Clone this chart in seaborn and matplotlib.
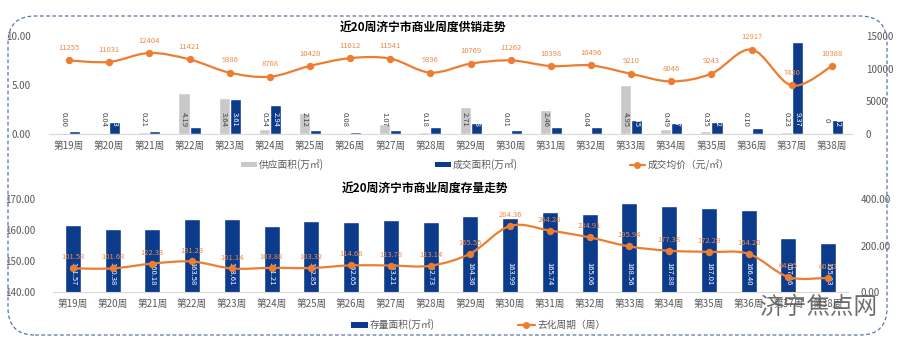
import matplotlib
matplotlib.use("Agg")
import matplotlib.pyplot as plt
import numpy as np
import pandas as pd
import seaborn as sns
from matplotlib.path import Path
from matplotlib.patches import PathPatch, FancyBboxPatch, Patch
from matplotlib.lines import Line2D

# ---------------- data ----------------
weeks = ["第19周", "第20周", "第21周", "第22周", "第23周", "第24周", "第25周",
         "第26周", "第27周", "第28周", "第29周", "第30周", "第31周", "第32周",
         "第33周", "第34周", "第35周", "第36周", "第37周", "第38周"]

supply = [0.00, 0.04, 0.21, 4.19, 3.64, 0.54, 2.12, 0.08, 1.07, 0.18,
          2.71, 0.01, 2.46, 0.04, 4.95, 0.49, 0.35, 0.10, 0.23, 0.00]
supply_labels = ["0.00", "0.04", "0.21", "4.19", "3.64", "0.54", "2.12", "0.08", "1.07", "0.18",
                 "2.71", "0.01", "2.46", "0.04", "4.95", "0.49", "0.35", "0.10", "0.23", "0"]
deal = [0.31, 1.23, 0.31, 0.71, 3.61, 2.94, 0.44, 0.20, 0.44, 0.68,
        1.08, 0.44, 0.73, 0.73, 1.45, 1.17, 1.22, 0.65, 9.37, 1.42]
price = [11255, 11031, 12404, 11421, 9386, 8768, 10420, 11612, 11541, 9396,
         10769, 11262, 10398, 10496, 9210, 8046, 9243, 12917, 7430, 10388]

stock = [161.57, 160.38, 160.18, 163.58, 163.61, 161.21, 162.85, 162.65, 163.21, 162.73,
         164.36, 163.99, 165.74, 165.06, 168.56, 167.88, 167.01, 166.40, 157.26, 155.83]
cycle = [101.53, 101.63, 122.33, 131.23, 101.14, 103.88, 103.32, 114.68, 113.78, 113.14,
         165.55, 284.36, 264.28, 234.91, 195.94, 177.38, 172.29, 164.20, 64.35, 60.91]

top_title = "近20周济宁市商业周度供销走势"
bottom_title = "近20周济宁市商业周度存量走势"
series_names = ["供应面积(万㎡)", "成交面积(万㎡)", "成交均价（元/㎡）"]
bottom_names = ["存量面积(万㎡)", "去化周期（周）"]

# ---------------- style ----------------
GRAY = "#c9c9c9"
NAVY = "#0d3b8c"
ORANGE = "#ed7d31"
LABEL_ORANGE = "#ef8a44"
TICK = "#595959"

sns.set_theme(style="white")
plt.rcParams["font.family"] = ["Noto Sans CJK SC", "DejaVu Sans"]
plt.rcParams["axes.unicode_minus"] = False

W, H = 902, 347
fig = plt.figure(figsize=(W / 100, H / 100), dpi=100)


def ax_rect(x0, x1, ytop, ybot):
    return [x0 / W, 1 - ybot / H, (x1 - x0) / W, (ybot - ytop) / H]


def smooth_path(xs, ys, t=1 / 6):
    verts = [(xs[0], ys[0])]
    codes = [Path.MOVETO]
    n = len(xs)
    for i in range(n - 1):
        p0 = (xs[max(i - 1, 0)], ys[max(i - 1, 0)])
        p1 = (xs[i], ys[i])
        p2 = (xs[i + 1], ys[i + 1])
        p3 = (xs[min(i + 2, n - 1)], ys[min(i + 2, n - 1)])
        c1 = (p1[0] + (p2[0] - p0[0]) * t, p1[1] + (p2[1] - p0[1]) * t)
        c2 = (p2[0] - (p3[0] - p1[0]) * t, p2[1] - (p3[1] - p1[1]) * t)
        verts += [c1, c2, p2]
        codes += [Path.CURVE4] * 3
    return Path(verts, codes)


def style_axes(ax):
    for s in ["top", "left", "right"]:
        ax.spines[s].set_visible(False)
    ax.spines["bottom"].set_color("#d9d9d9")
    ax.spines["bottom"].set_linewidth(0.8)
    ax.grid(False)


# ---------------- top chart ----------------
ax1 = fig.add_axes(ax_rect(49, 852, 36, 134))
df_top = pd.DataFrame({
    "week": weeks * 2,
    "value": supply + deal,
    "series": [series_names[0]] * len(weeks) + [series_names[1]] * len(weeks),
})
sns.barplot(data=df_top, x="week", y="value", hue="series", palette=[GRAY, NAVY],
            width=0.55, saturation=1, ax=ax1, legend=False)
ax1.set_xlim(-0.5, len(weeks) - 0.5)
ax1.set_ylim(0, 10)
ax1.set_yticks([0, 5, 10])
ax1.set_yticklabels(["0.00", "5.00", "10.00"])
ax1.set_xlabel("")
ax1.set_ylabel("")
style_axes(ax1)
ax1.tick_params(axis="both", length=0, labelsize=7, colors=TICK)
ax1.tick_params(axis="y", pad=13)
ax1.tick_params(axis="x", pad=5)

for i in range(len(weeks)):
    ax1.text(i - 0.1375, 1.45, supply_labels[i], rotation=270, ha="center", va="center",
             fontsize=5.5, color="#404040")
    ax1.text(i + 0.1375, 1.45, f"{deal[i]:.2f}", rotation=270, ha="center", va="center",
             fontsize=5.5, color="white", clip_on=True)

ax1b = ax1.twinx()
ax1b.set_ylim(0, 15000)
ax1b.set_yticks([0, 5000, 10000, 15000])
ax1b.set_yticklabels(["0", "5000", "10000", "15000"])
for s in ["top", "left", "right", "bottom"]:
    ax1b.spines[s].set_visible(False)
ax1b.grid(False)
ax1b.tick_params(axis="y", length=0, labelsize=7, colors=TICK, pad=10)
xs = list(range(len(weeks)))
ax1b.add_patch(PathPatch(smooth_path(xs, price), facecolor="none", edgecolor=ORANGE, lw=1.6))
sns.scatterplot(x=xs, y=price, ax=ax1b, color=ORANGE, s=28, edgecolor=ORANGE, linewidth=0, zorder=5)
for i, v in enumerate(price):
    ax1b.annotate(str(v), (i, v), xytext=(0, 6), textcoords="offset points", ha="center",
                  va="bottom", fontsize=5.5, color=LABEL_ORANGE)

fig.text(423 / W, 1 - 27 / H, top_title, ha="center", va="center", fontsize=8.5,
         fontweight="bold", color="black")

top_handles = [
    Patch(facecolor=GRAY, edgecolor="none"),
    Patch(facecolor=NAVY, edgecolor="none"),
    Line2D([0], [0], color=ORANGE, lw=1.6, marker="o", markersize=4),
]
leg1 = fig.legend(top_handles, series_names, loc="center", bbox_to_anchor=(485 / W, 1 - 165 / H),
                  ncol=3, frameon=False, fontsize=7, handlelength=1.6, handleheight=0.5,
                  handletextpad=0.2, columnspacing=11.5, labelcolor=TICK)

# ---------------- bottom chart ----------------
ax2 = fig.add_axes(ax_rect(53, 848, 199, 292))
df_bot = pd.DataFrame({"week": weeks, "value": stock})
sns.barplot(data=df_bot, x="week", y="value", color=NAVY, width=0.4, saturation=1, ax=ax2)
ax2.set_xlim(-0.5, len(weeks) - 0.5)
ax2.set_ylim(140, 170)
ax2.set_yticks([140, 150, 160, 170])
ax2.set_yticklabels(["140.00", "150.00", "160.00", "170.00"])
ax2.set_xlabel("")
ax2.set_ylabel("")
style_axes(ax2)
ax2.tick_params(axis="both", length=0, labelsize=7, colors=TICK)
ax2.tick_params(axis="y", pad=13)
ax2.tick_params(axis="x", pad=5)
for i, v in enumerate(stock):
    ax2.text(i, 145.8, f"{v:.2f}", rotation=270, ha="center", va="center",
             fontsize=5.5, color="white")

ax2b = ax2.twinx()
ax2b.set_ylim(0, 400)
ax2b.set_yticks([0, 200, 400])
ax2b.set_yticklabels(["0.00", "200.00", "400.00"])
for s in ["top", "left", "right", "bottom"]:
    ax2b.spines[s].set_visible(False)
ax2b.grid(False)
ax2b.tick_params(axis="y", length=0, labelsize=7, colors=TICK, pad=9)
ax2b.add_patch(PathPatch(smooth_path(xs, cycle), facecolor="none", edgecolor=ORANGE, lw=1.6))
sns.scatterplot(x=xs, y=cycle, ax=ax2b, color=ORANGE, s=28, edgecolor=ORANGE, linewidth=0, zorder=5)
for i, v in enumerate(cycle):
    ax2b.annotate(f"{v:.2f}", (i, v), xytext=(0, 5), textcoords="offset points", ha="center",
                  va="bottom", fontsize=5.5, color=LABEL_ORANGE)

fig.text(425 / W, 1 - 188 / H, bottom_title, ha="center", va="center", fontsize=8.5,
         fontweight="bold", color="black")

bot_handles = [
    Patch(facecolor=NAVY, edgecolor="none"),
    Line2D([0], [0], color=ORANGE, lw=1.6, marker="o", markersize=4),
]
fig.legend(bot_handles, bottom_names, loc="center", bbox_to_anchor=(478 / W, 1 - 325 / H),
           ncol=2, frameon=False, fontsize=7, handlelength=1.8, handleheight=0.7,
           handletextpad=0.2, columnspacing=8.5, labelcolor=TICK)

# ---------------- decorations ----------------
box = FancyBboxPatch((8 / W, 1 - 335 / H), (887 - 8) / W, (335 - 16) / H,
                     boxstyle="round,pad=0,rounding_size=0.03", transform=fig.transFigure,
                     facecolor="none", edgecolor="#5a74a8", lw=0.9, linestyle=(0, (3, 2)),
                     mutation_aspect=W / H)
fig.patches.append(box)

fig.text(818 / W, 1 - 307 / H, "济宁焦点网", ha="center", va="center", fontsize=17,
         color="#555555", alpha=0.85)

fig.savefig("out.png", dpi=100)
